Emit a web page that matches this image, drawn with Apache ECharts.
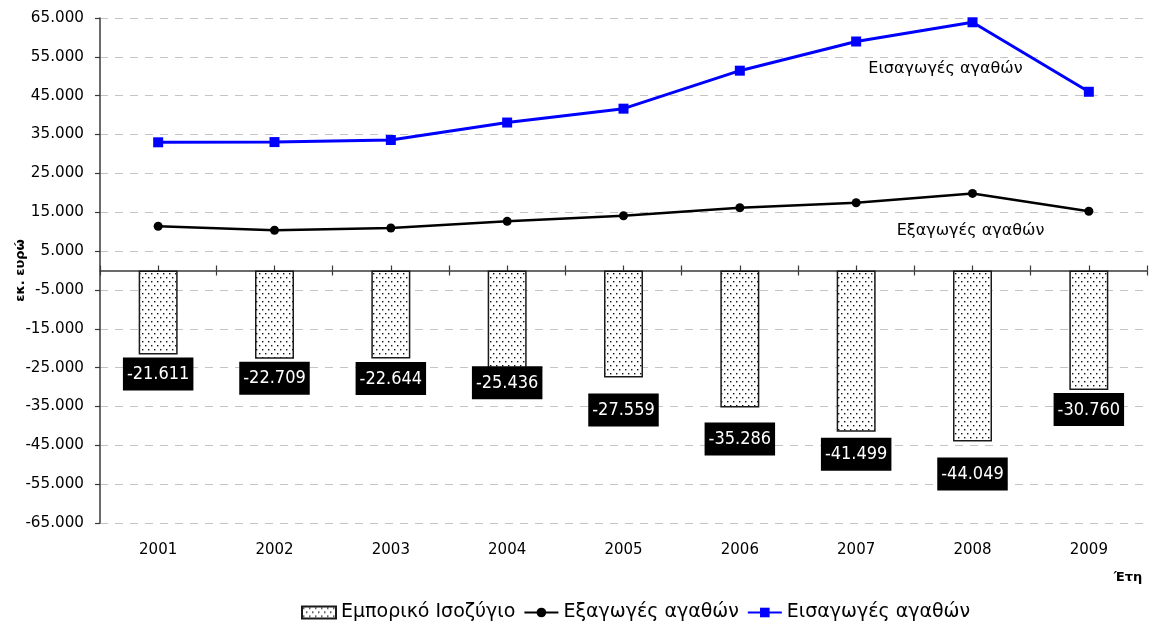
<!DOCTYPE html>
<html>
<head>
<meta charset="utf-8">
<script src="https://cdn.jsdelivr.net/npm/echarts@6/dist/echarts.min.js"></script>
<style>
  html, body { margin: 0; padding: 0; background: #ffffff; }
  #chart { width: 1149px; height: 631px; }
</style>
</head>
<body>
<div id="chart"></div>
<script>
// Years on the category axis
const years = ['2001', '2002', '2003', '2004', '2005', '2006', '2007', '2008', '2009'];
// Trade balance (million euro)
const tradeBalance = [-21611, -22709, -22644, -25436, -27559, -35286, -41499, -44049, -30760];
// Exports of goods (million euro)
const exportsGoods = [11390, 10350, 10950, 12650, 14100, 16150, 17450, 19850, 15250];
// Imports of goods (million euro)
const importsGoods = [33000, 33060, 33600, 38090, 41660, 51440, 58950, 63900, 46010];
// Value axis ticks
const yTicks = [-65000, -55000, -45000, -35000, -25000, -15000, -5000, 5000, 15000, 25000, 35000, 45000, 55000, 65000];
// Series and axis texts
const seriesNames = ['Εμπορικό Ισοζύγιο', 'Εξαγωγές αγαθών', 'Εισαγωγές αγαθών'];
const yAxisTitle = 'εκ. ευρώ';
const xAxisTitle = 'Έτη';

// Extra gap (px) between each bar end and its value box
const balanceLabelGap = [3, 3, 3.5, -3, 16, 15, 6, 16, 3];
// Index of the point that carries the series name on each line
const nameLabelIndex = 7;

const FONT = 'DejaVu Sans';
const LABEL_FONT = "'DejaVu Sans Condensed', 'Liberation Sans', sans-serif";

function fmt(v) {
  const s = Math.abs(Math.round(v)).toString().replace(/\B(?=(\d{3})+(?!\d))/g, '.');
  return (v < 0 ? '-' : '') + s;
}

// Dotted fill for the balance bars
function dotPattern() {
  const c = document.createElement('canvas');
  c.width = 6; c.height = 8;
  const g = c.getContext('2d');
  g.fillStyle = '#ffffff';
  g.fillRect(0, 0, 6, 8);
  g.fillStyle = '#111111';
  g.fillRect(1, 1, 1.4, 1.4);
  g.fillRect(4, 5, 1.4, 1.4);
  return { image: c, repeat: 'repeat' };
}
const dots = dotPattern();

// Half-category slots so the small ticks fall on both centres and boundaries
const halfSlots = years.flatMap(y => [y + 'a', y + 'b']);

const axisColor = '#3a3a3a';
const gridTop = 18;
const gridBottom = 108;
const chartHeight = 631;
// distance from the bottom edge of the plot up to the zero line
const zeroLift = (chartHeight - gridTop - gridBottom) / 2;

const chart = echarts.init(document.getElementById('chart'), null, { renderer: 'canvas' });

const option = {
  animation: false,
  backgroundColor: '#ffffff',
  textStyle: { fontFamily: FONT },
  grid: {
    left: 100, right: 2, top: gridTop, bottom: gridBottom,
    containLabel: false,
    outerBoundsMode: 'none'
  },
  legend: {
    data: [
      { name: seriesNames[0], icon: 'rect' },
      { name: seriesNames[1] },
      { name: seriesNames[2] }
    ],
    left: 296,
    top: 598,
    itemWidth: 34,
    itemHeight: 12,
    itemGap: 8,
    textStyle: { fontFamily: FONT, fontSize: 19, color: '#000000' }
  },
  xAxis: [
    {
      // year labels at the bottom of the plot; the series use this axis
      type: 'category',
      data: years,
      position: 'bottom',
      axisLine: { show: false, onZero: false },
      axisTick: { show: false },
      axisLabel: { margin: 20, fontSize: 15, color: '#000000', fontFamily: FONT },
      splitLine: { show: false },
      name: xAxisTitle,
      nameLocation: 'end',
      nameGap: -19,
      nameMoveOverlap: false,
      nameTextStyle: {
        fontFamily: FONT, fontSize: 13, fontWeight: 'bold', color: '#000000',
        align: 'center', verticalAlign: 'top', padding: [48, 0, 0, 0]
      }
    },
    {
      // zero line with upward ticks
      type: 'category',
      data: halfSlots,
      position: 'bottom',
      axisLine: { show: true, onZero: true, lineStyle: { color: axisColor, width: 1.5 } },
      axisTick: { show: true, inside: true, length: 5, lineStyle: { color: axisColor, width: 1.2 } },
      axisLabel: { show: false },
      splitLine: { show: false }
    },
    {
      // downward ticks on the zero line
      type: 'category',
      data: halfSlots,
      position: 'bottom',
      offset: -zeroLift,
      axisLine: { show: false, onZero: false },
      axisTick: { show: true, length: 5, lineStyle: { color: axisColor, width: 1.2 } },
      axisLabel: { show: false },
      splitLine: { show: false }
    }
  ],
  yAxis: {
    type: 'value',
    min: -65000,
    max: 65000,
    interval: 5000,
    axisLine: { show: true, lineStyle: { color: axisColor, width: 1.5 } },
    axisTick: { show: true, length: 5, customValues: yTicks, lineStyle: { color: axisColor, width: 1.2 } },
    axisLabel: {
      customValues: yTicks,
      formatter: v => fmt(v),
      margin: 16,
      fontSize: 15.2,
      color: '#000000',
      fontFamily: FONT
    },
    splitLine: { show: true, lineStyle: { color: '#c4c4c4', width: 1, type: [8, 7] } },
    name: yAxisTitle,
    nameLocation: 'middle',
    nameRotate: 90,
    nameGap: 73,
    nameMoveOverlap: false,
    nameTextStyle: { fontFamily: FONT, fontSize: 13, fontWeight: 'bold', color: '#000000' }
  },
  series: [
    {
      name: seriesNames[0],
      type: 'bar',
      xAxisIndex: 0,
      barWidth: 39,
      data: tradeBalance.map((v, i) => ({ value: v, label: { distance: balanceLabelGap[i] } })),
      itemStyle: { color: dots, borderColor: '#1a1a1a', borderWidth: 1.5 },
      label: {
        show: true,
        position: 'bottom',
        formatter: p => fmt(p.value),
        color: '#ffffff',
        backgroundColor: '#000000',
        fontFamily: LABEL_FONT,
        fontSize: 18,
        lineHeight: 22,
        padding: [6, 4, 5, 4]
      },
      z: 2
    },
    {
      name: seriesNames[1],
      type: 'line',
      xAxisIndex: 0,
      data: exportsGoods.map((v, i) => i === nameLabelIndex
        ? { value: v, label: { show: true, position: 'bottom', distance: 25, offset: [-2, 0] } }
        : v),
      symbol: 'circle',
      symbolSize: 9,
      lineStyle: { color: '#000000', width: 2.5 },
      itemStyle: { color: '#000000' },
      label: { show: false, formatter: '{a}', fontFamily: FONT, fontSize: 16, color: '#000000' },
      z: 4
    },
    {
      name: seriesNames[2],
      type: 'line',
      xAxisIndex: 0,
      data: importsGoods.map((v, i) => i === nameLabelIndex
        ? { value: v, label: { show: true, position: 'bottom', distance: 34, offset: [-27, 0] } }
        : v),
      symbol: 'rect',
      symbolSize: 10,
      lineStyle: { color: '#0000ff', width: 3 },
      itemStyle: { color: '#0000ff' },
      label: { show: false, formatter: '{a}', fontFamily: FONT, fontSize: 16, color: '#000000' },
      z: 5
    }
  ]
};

chart.setOption(option);
</script>
</body>
</html>
